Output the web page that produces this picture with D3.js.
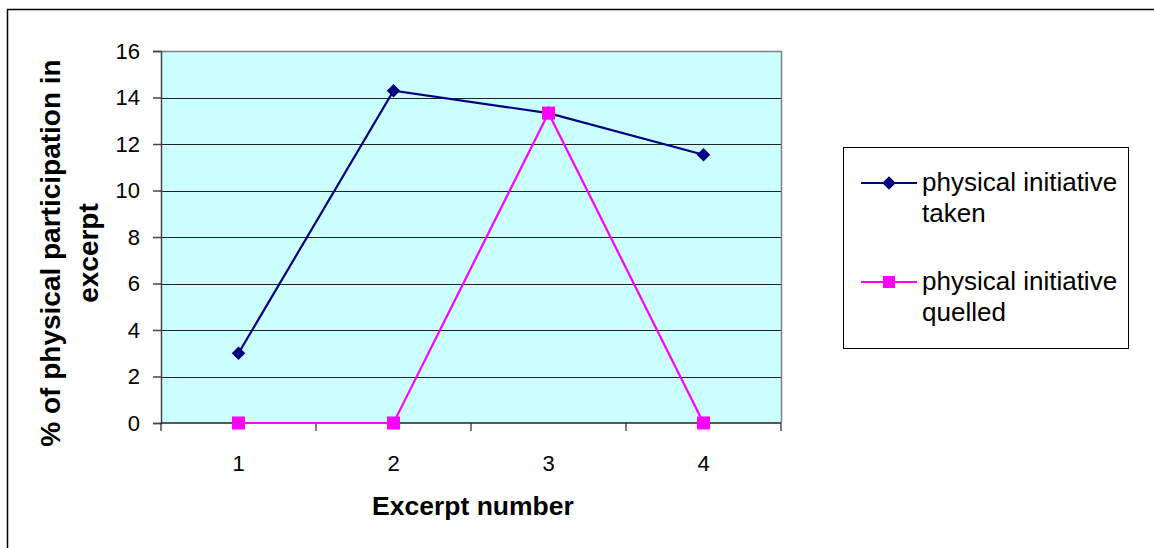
<!DOCTYPE html>
<html>
<head>
<meta charset="utf-8">
<script src="https://cdn.jsdelivr.net/npm/d3@7"></script>
<style>
  html, body { margin: 0; padding: 0; background: #fff; }
  svg { display: block; font-family: "Liberation Sans", Arial, sans-serif; }
</style>
</head>
<body>
<svg id="chart" width="1154" height="548"></svg>
<script>
// Excerpt categories and percentages per series
const categories = ["1", "2", "3", "4"];
const takenValues = [3.0, 14.29, 13.33, 11.54];
const quelledValues = [0, 0, 13.33, 0];
const yTicks = [0, 2, 4, 6, 8, 10, 12, 14, 16];
const seriesNames = ["physical initiative taken", "physical initiative quelled"];

const svg = d3.select("#chart");
const plot = { left: 161, top: 51, right: 781, bottom: 423 };

// Outer frame
svg.append("rect")
  .attr("x", 7.5).attr("y", 9.5)
  .attr("width", 1160).attr("height", 560)
  .attr("fill", "#fff").attr("stroke", "#000").attr("stroke-width", 1.5);

const x = d3.scaleBand().domain(categories).range([plot.left, plot.right]);
const y = d3.scaleLinear().domain([0, 16]).range([plot.bottom, plot.top]);

// Plot background
svg.append("rect")
  .attr("x", plot.left).attr("y", plot.top)
  .attr("width", plot.right - plot.left).attr("height", plot.bottom - plot.top)
  .attr("fill", "#CCFFFF");

// Horizontal gridlines
svg.append("g").selectAll("line")
  .data(yTicks.filter(d => d > 0 && d < 16))
  .join("line")
  .attr("x1", plot.left).attr("x2", plot.right)
  .attr("y1", d => Math.round(y(d)) + 0.5).attr("y2", d => Math.round(y(d)) + 0.5)
  .attr("stroke", "#222").attr("stroke-width", 1);

// Top and right border of the plot area
svg.append("path")
  .attr("d", `M${plot.left},${plot.top + 0.5}H${plot.right + 0.5}V${plot.bottom}`)
  .attr("fill", "none").attr("stroke", "#808080").attr("stroke-width", 1.5);

// Y axis
const yAxis = svg.append("g")
  .attr("transform", `translate(${plot.left},0)`)
  .call(d3.axisLeft(y).tickValues(yTicks).tickSize(8).tickPadding(13).tickFormat(d3.format("d")));
yAxis.attr("font-size", 22).attr("font-family", "Liberation Sans, Arial, sans-serif");
yAxis.select(".domain").attr("stroke", "#444").attr("stroke-width", 1.5);
yAxis.selectAll(".tick line").attr("stroke", "#444").attr("stroke-width", 1.5);
yAxis.selectAll(".tick text").attr("fill", "#000");

// X axis: ticks at category boundaries
const xAxisG = svg.append("g").attr("transform", `translate(0,${plot.bottom})`);
xAxisG.append("line")
  .attr("x1", plot.left).attr("x2", plot.right)
  .attr("stroke", "#222").attr("stroke-width", 1.5);
const boundaries = categories.map(c => x(c)).concat([x(categories[categories.length - 1]) + x.bandwidth()]);
xAxisG.selectAll("line.tick")
  .data(boundaries)
  .join("line").attr("class", "tick")
  .attr("x1", d => d).attr("x2", d => d)
  .attr("y1", 0).attr("y2", 8)
  .attr("stroke", "#222").attr("stroke-width", 1.2);
xAxisG.selectAll("text")
  .data(categories)
  .join("text")
  .attr("x", d => x(d) + x.bandwidth() / 2)
  .attr("y", 48)
  .attr("text-anchor", "middle")
  .attr("font-size", 22)
  .text(d => d);

// Axis titles
svg.append("text")
  .attr("x", (plot.left + plot.right) / 2 + 2)
  .attr("y", 515)
  .attr("text-anchor", "middle")
  .attr("font-size", 26.5).attr("font-weight", "bold")
  .text("Excerpt number");

const yTitle = svg.append("text")
  .attr("transform", "translate(60,253) rotate(-90)")
  .attr("text-anchor", "middle")
  .attr("font-size", 28).attr("font-weight", "bold");
yTitle.append("tspan").attr("x", 0).attr("dy", 0).text("% of physical participation in");
yTitle.append("tspan").attr("x", 0).attr("dy", 38).text("excerpt");

// Series lines and markers
const cx = d => x(d) + x.bandwidth() / 2;
const line = d3.line().x(d => cx(d.c)).y(d => y(d.v));

const takenData = categories.map((c, i) => ({ c, v: takenValues[i] }));
const quelledData = categories.map((c, i) => ({ c, v: quelledValues[i] }));

svg.append("path").datum(takenData)
  .attr("d", line).attr("fill", "none")
  .attr("stroke", "#000080").attr("stroke-width", 2.2);
svg.append("path").datum(quelledData)
  .attr("d", line).attr("fill", "none")
  .attr("stroke", "#FF00FF").attr("stroke-width", 2.2);

const diamond = d3.symbol().type(d3.symbolSquare).size(92);
svg.append("g").selectAll("path")
  .data(takenData).join("path")
  .attr("d", diamond)
  .attr("transform", d => `translate(${cx(d.c)},${y(d.v)}) rotate(45)`)
  .attr("fill", "#000080");

svg.append("g").selectAll("rect")
  .data(quelledData).join("rect")
  .attr("x", d => cx(d.c) - 6.5).attr("y", d => y(d.v) - 6.5)
  .attr("width", 13).attr("height", 13)
  .attr("fill", "#FF00FF");

// Legend
const legend = svg.append("g");
legend.append("rect")
  .attr("x", 843.5).attr("y", 147.5)
  .attr("width", 285).attr("height", 201)
  .attr("fill", "#fff").attr("stroke", "#000").attr("stroke-width", 1);

const legendItems = [
  { name: seriesNames[0], color: "#000080", marker: "diamond", y: 183 },
  { name: seriesNames[1], color: "#FF00FF", marker: "square", y: 282 }
];
legendItems.forEach(item => {
  const g = legend.append("g");
  g.append("line")
    .attr("x1", 861).attr("x2", 917)
    .attr("y1", item.y).attr("y2", item.y)
    .attr("stroke", item.color).attr("stroke-width", 2);
  if (item.marker === "diamond") {
    g.append("path").attr("d", diamond)
      .attr("transform", `translate(889,${item.y}) rotate(45)`)
      .attr("fill", item.color);
  } else {
    g.append("rect").attr("x", 883).attr("y", item.y - 6)
      .attr("width", 12).attr("height", 12).attr("fill", item.color);
  }
  const words = item.name.split(" ");
  const t = g.append("text").attr("font-size", 26).attr("fill", "#000");
  t.append("tspan").attr("x", 922).attr("y", item.y + 8).text(words.slice(0, 2).join(" "));
  t.append("tspan").attr("x", 922).attr("y", item.y + 39).text(words.slice(2).join(" "));
});
</script>
</body>
</html>
